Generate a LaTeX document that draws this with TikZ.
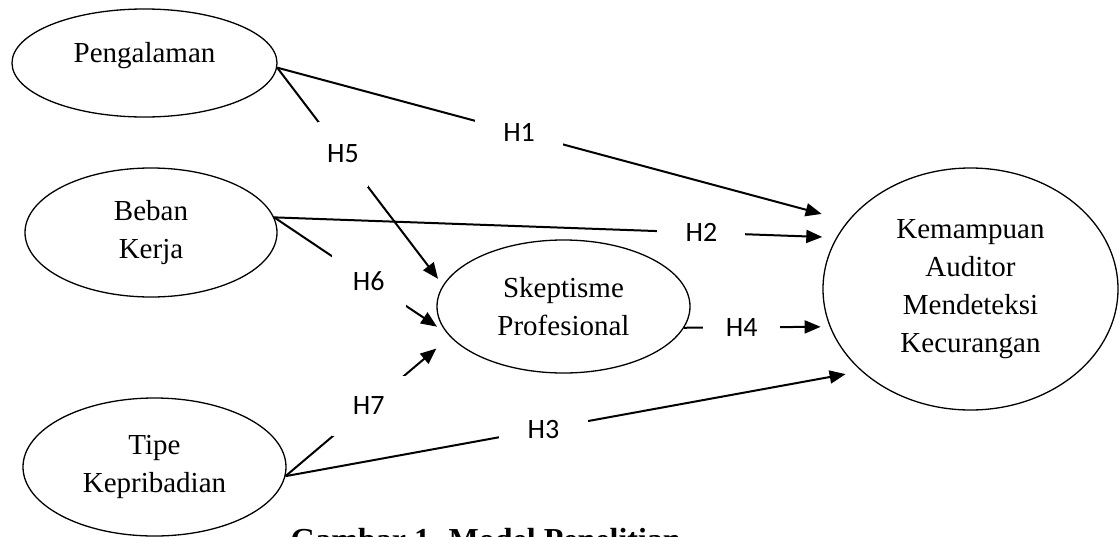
\documentclass[tikz,border=0pt]{standalone}
\usepackage{fontspec}
\setmainfont{Liberation Serif}
\newfontfamily\hypfont{Carlito}
\usetikzlibrary{arrows.meta,shapes.geometric}

\tikzset{
  var/.style={ellipse, draw, line width=1.3pt, inner sep=0pt, align=center,
    font=\fontsize{29}{38}\selectfont},
  hyp/.style 2 args={fill=white, inner sep=0pt, minimum width=#1,
    minimum height=#2, font=\hypfont\fontsize{28}{30}\selectfont},
  link/.style={line width=2pt, -{Triangle[length=16pt,width=13pt]}}
}

\begin{document}
\begin{tikzpicture}[x=1pt,y=-1pt]
    \useasboundingbox (0,0) rectangle (1120,536);
    % variables
    \node[var, minimum width=265, minimum height=108, text depth=22pt] (peng) at (144.5,63) {Pengalaman};
    \node[var, minimum width=252, minimum height=129] (beban) at (151,232.5) {Beban\\Kerja};
    \node[var, minimum width=263, minimum height=138] (tipe) at (154.5,467) {Tipe\\Kepribadian};
    \node[var, minimum width=253, minimum height=133] (skep) at (563.5,306.5) {Skeptisme\\Profesional};
    \node[var, minimum width=295, minimum height=242] (kem) at (970.5,289)
      {Kemampuan\\Auditor\\Mendeteksi\\Kecurangan};
    % paths into skeptisme
    \draw[link, shorten >=12] (beban.7) -- node[hyp={74}{53}, pos=0.547] {H6} (skep.193.4);
    \draw[link, shorten >=18] (tipe.-4) -- node[hyp={74}{60}, pos=0.506] {H7} (skep.195);
    % direct paths
    \draw[link, shorten >=27] (peng.-2) -- node[hyp={88}{30}, pos=0.424] {H1} (kem.151.4);
    \draw[link, shorten >=14] (beban.7) -- node[hyp={88}{30}, pos=0.76] {H2} (kem.159.8);
    \draw[link, shorten >=16] (tipe.-4) -- node[hyp={89}{30}, pos=0.448] {H3} (kem.217.3);
    \draw[link, shorten >=9] (skep.-10) -- node[hyp={77}{30}, pos=0.396] {H4} (kem.195.6);
    \draw[link, shorten >=8] (peng.-2) -- node[hyp={50}{65}, pos=0.397] {H5} (skep.170.6);
    % caption
    \node[anchor=base west, font=\bfseries\fontsize{32}{36}\selectfont] (cap) at (287,550)
      {Gambar 1. Model Penelitian};
\end{tikzpicture}
\end{document}
